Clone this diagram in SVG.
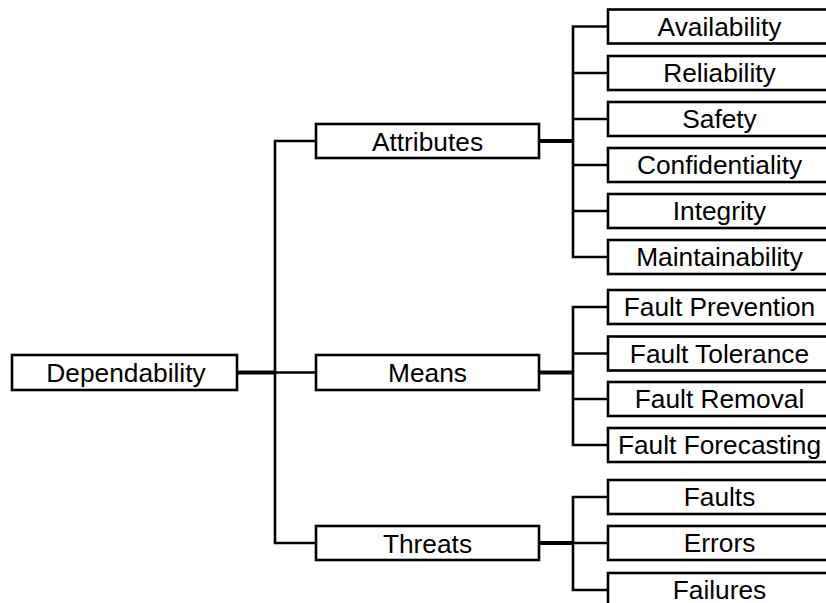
<svg xmlns="http://www.w3.org/2000/svg" width="826" height="603" viewBox="0 0 826 603">
<style>
.box{fill:#fff;stroke:#000;stroke-width:2.6}
.t{font-family:"Liberation Sans",Arial,sans-serif;font-size:26.3px;fill:#000;text-anchor:middle}
.thin{fill:none;stroke:#000;stroke-width:2.6}
.thick{fill:none;stroke:#000;stroke-width:4}
</style>
<rect width="826" height="603" fill="#fff"/>
<g id="connectors">
<path class="thick" d="M237 372.5H275"/>
<path class="thin" d="M316 141H275V543H316M275 372.5H316"/>
<path class="thick" d="M539 141H573M539 372.5H573M539 543H573"/>
<path class="thin" d="M608 26.5H573V257H608M573 73H608M573 119H608M573 165H608M573 211H608"/>
<path class="thin" d="M608 307H573V445H608M573 353.5H608M573 399H608"/>
<path class="thin" d="M608 497H573V590H608M573 543H608"/>
</g>
<g id="dependability"><rect class="box" x="12" y="355" width="225" height="35"/><text class="t" x="126" y="382">Dependability</text></g>
<g id="attributes"><rect class="box" x="316" y="124" width="223" height="34"/><text class="t" x="427.5" y="150.5">Attributes</text></g>
<g id="means"><rect class="box" x="316" y="355" width="223" height="35"/><text class="t" x="427.5" y="382">Means</text></g>
<g id="threats"><rect class="box" x="316" y="526" width="223" height="34"/><text class="t" x="427.5" y="552.5">Threats</text></g>
<g id="availability"><rect class="box" x="608" y="9.5" width="224" height="34"/><text class="t" x="719.5" y="35.5">Availability</text></g>
<g id="reliability"><rect class="box" x="608" y="56" width="224" height="34"/><text class="t" x="719.5" y="82">Reliability</text></g>
<g id="safety"><rect class="box" x="608" y="102" width="224" height="34"/><text class="t" x="719.5" y="128">Safety</text></g>
<g id="confidentiality"><rect class="box" x="608" y="148" width="224" height="34"/><text class="t" x="719.5" y="174">Confidentiality</text></g>
<g id="integrity"><rect class="box" x="608" y="194" width="224" height="34"/><text class="t" x="719.5" y="220">Integrity</text></g>
<g id="maintainability"><rect class="box" x="608" y="240" width="224" height="34"/><text class="t" x="719.5" y="266">Maintainability</text></g>
<g id="fault-prevention"><rect class="box" x="608" y="290" width="224" height="34"/><text class="t" x="719.5" y="316">Fault Prevention</text></g>
<g id="fault-tolerance"><rect class="box" x="608" y="336.5" width="224" height="34"/><text class="t" x="719.5" y="362.5">Fault Tolerance</text></g>
<g id="fault-removal"><rect class="box" x="608" y="382" width="224" height="34"/><text class="t" x="719.5" y="408">Fault Removal</text></g>
<g id="fault-forecasting"><rect class="box" x="608" y="428" width="224" height="34"/><text class="t" x="719.5" y="454">Fault Forecasting</text></g>
<g id="faults"><rect class="box" x="608" y="480" width="224" height="34"/><text class="t" x="719.5" y="506">Faults</text></g>
<g id="errors"><rect class="box" x="608" y="526" width="224" height="34"/><text class="t" x="719.5" y="552">Errors</text></g>
<g id="failures"><rect class="box" x="608" y="573" width="224" height="34"/><text class="t" x="719.5" y="599">Failures</text></g>
</svg>
